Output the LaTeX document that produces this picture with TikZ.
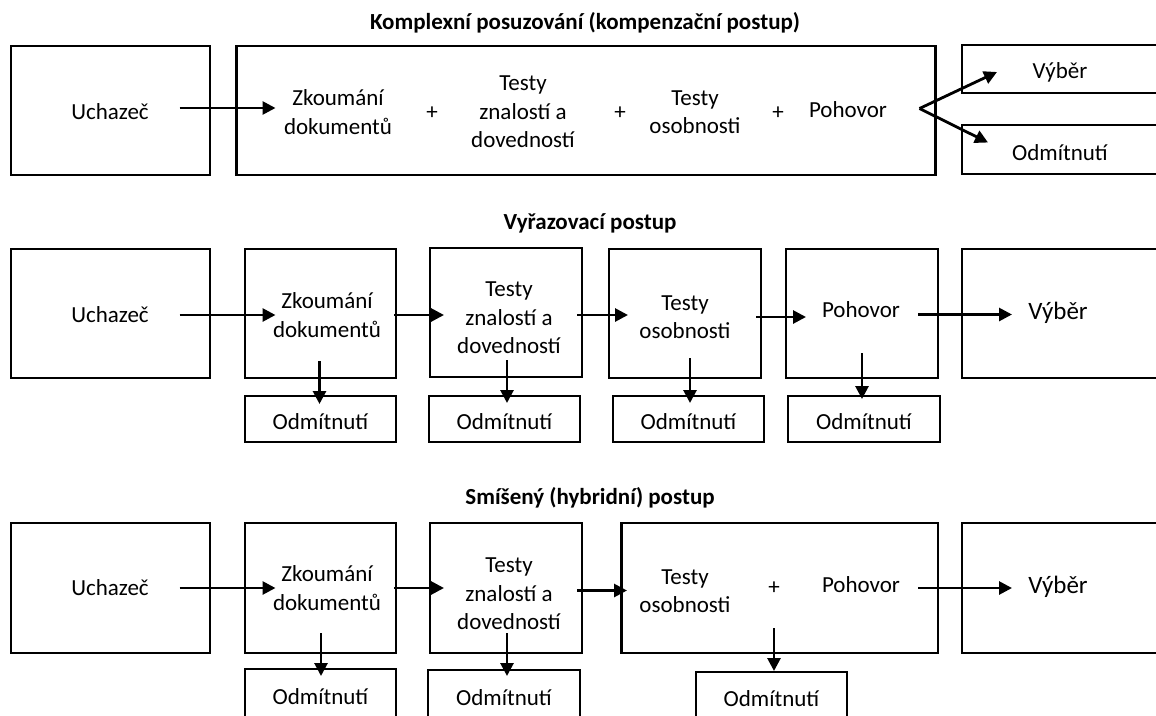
\documentclass[tikz,border=0pt]{standalone}
\usepackage{fontspec}
\setmainfont{Carlito}
\usetikzlibrary{arrows.meta,calc}
\begin{document}
\begin{tikzpicture}[x=1pt,y=-1pt,
  box/.style={draw,line width=2.3pt,inner sep=0pt,outer sep=0pt},
  txt/.style={align=center,inner sep=0pt,font=\fontsize{23}{28.5}\selectfont},
  ttl/.style={inner sep=0pt,font=\bfseries\fontsize{23}{27}\selectfont},
  bigtxt/.style={inner sep=0pt,font=\fontsize{25}{30}\selectfont},
  arr/.style={line width=2.8pt,-{Triangle[length=13pt,width=13pt]}}]
\useasboundingbox (0,0) rectangle (1156,715);
% ---------- Row 1 ----------
\node[ttl] (ttl1) at (585,23) {Komplexní posuzování (kompenzační postup)};
\node[box,minimum width=199pt,minimum height=129pt] (b1u) at (110.2,110.5) {};
\node[box,minimum width=699pt,minimum height=129pt] (b1m) at (586,110.5) {};
\node[box,minimum width=205pt,minimum height=48pt] (b1v) at (1064.5,69) {};
\node[box,minimum width=205pt,minimum height=49pt] (b1o) at (1064.5,149.5) {};
\node[txt] (t1u) at (110,112) {Uchazeč};
\node[txt] (t1zk) at (338,112) {Zkoumání\\dokumentů};
\node[txt] (p11) at (432,113) {+};
\node[txt] (t1tz) at (523,112) {Testy\\znalostí a\\dovedností};
\node[txt] (p12) at (620,113) {+};
\node[txt] (t1to) at (695,112) {Testy\\osobnosti};
\node[txt] (p13) at (778,113) {+};
\node[txt] (t1p) at (848,110) {Pohovor};
\node[txt] (t1v) at (1060,72) {Výběr};
\node[txt] (t1o) at (1060,153) {Odmítnutí};
\draw[arr] ($(b1u.east)+(-30,-2.5)$) -- ($(b1m.west)+(39,-2.5)$);
\coordinate (apex) at ($(b1m.east)+(-16,-2)$);
\draw[arr] (apex) -- ($(b1v.west)+(35,3)$);
\draw[arr] (apex) -- ($(b1o.west)+(26,-7)$);
% ---------- Row 2 ----------
\node[ttl] (ttl2) at (590,223) {Vyřazovací postup};
\node[box,minimum width=199pt,minimum height=129pt] (b2u) at (110.2,313.5) {};
\node[box,minimum width=151pt,minimum height=129pt] (b2zk) at (320.5,313.5) {};
\node[box,minimum width=152pt,minimum height=129pt] (b2tz) at (506,312.5) {};
\node[box,minimum width=152pt,minimum height=129pt] (b2to) at (685,313.5) {};
\node[box,minimum width=152pt,minimum height=129pt] (b2p) at (862,313.5) {};
\node[box,minimum width=205pt,minimum height=129pt] (b2v) at (1064.5,313.5) {};
\node[box,minimum width=151pt,minimum height=46pt] (o21) at (320.5,419) {};
\node[box,minimum width=151pt,minimum height=46pt] (o22) at (504.5,419) {};
\node[box,minimum width=151pt,minimum height=46pt] (o23) at (688.5,419) {};
\node[box,minimum width=152pt,minimum height=46pt] (o24) at (864,419) {};
\node[txt] (t2u) at (110,315) {Uchazeč};
\node[txt] (t2zk) at (327,315) {Zkoumání\\dokumentů};
\node[txt] (t2tz) at (509,318) {Testy\\znalostí a\\dovedností};
\node[txt] (t2to) at (685,317) {Testy\\osobnosti};
\node[txt] (t2p) at (861,310) {Pohovor};
\node[bigtxt] (t2v) at (1058,313) {Výběr};
\node[txt] (t2o1) at (320.5,422) {Odmítnutí};
\node[txt] (t2o2) at (504.5,422) {Odmítnutí};
\node[txt] (t2o3) at (688.5,422) {Odmítnutí};
\node[txt] (t2o4) at (864,422) {Odmítnutí};
\draw[arr] ($(b2u.east)+(-30,1.5)$) -- ($(b2zk.west)+(30.5,1.5)$);
\draw[arr] ($(b2zk.east)+(-2,1.5)$) -- ($(b2tz.west)+(14,2.5)$);
\draw[arr] ($(b2tz.east)+(-5,2.5)$) -- ($(b2to.west)+(19,1.5)$);
\draw[arr] ($(b2to.east)+(-5,3.5)$) -- ($(b2p.west)+(20,3.5)$);
\draw[arr] ($(b2p.east)+(-20,1)$) -- ($(b2v.west)+(50,1)$);
\draw[arr] ($(b2zk.south)+(-1,-17)$) -- ($(o21.north)+(-1,8)$);
\draw[arr] ($(b2tz.south)+(1,-17)$) -- ($(o22.north)+(2.5,7)$);
\draw[arr] ($(b2to.south)+(5,-20)$) -- ($(o23.north)+(1.5,7)$);
\draw[arr] ($(b2p.south)+(0,-25)$) -- ($(o24.north)+(-2,3)$);
% ---------- Row 3 ----------
\node[ttl] (ttl3) at (590,498) {Smíšený (hybridní) postup};
\node[box,minimum width=199pt,minimum height=130pt] (b3u) at (110.2,588) {};
\node[box,minimum width=151pt,minimum height=130pt] (b3zk) at (320.5,588) {};
\node[box,minimum width=152pt,minimum height=130pt] (b3tz) at (506,588) {};
\node[box,minimum width=316.5pt,minimum height=130pt] (b3c) at (779.75,588) {};
\node[box,minimum width=205pt,minimum height=130pt] (b3v) at (1064.5,588) {};
\node[box,minimum width=151pt,minimum height=51pt] (o31) at (320.5,694.5) {};
\node[box,minimum width=152pt,minimum height=50pt] (o32) at (504,695) {};
\node[box,minimum width=151pt,minimum height=48pt] (o33) at (771.5,696) {};
\node[txt] (t3u) at (110,588) {Uchazeč};
\node[txt] (t3zk) at (327,588) {Zkoumání\\dokumentů};
\node[txt] (t3tz) at (509,594) {Testy\\znalostí a\\dovedností};
\node[txt] (t3to) at (685,591) {Testy\\osobnosti};
\node[txt] (p31) at (774,588) {+};
\node[txt] (t3p) at (861,585) {Pohovor};
\node[bigtxt] (t3v) at (1058,587) {Výběr};
\node[txt] (t3o1) at (320.5,697) {Odmítnutí};
\node[txt] (t3o2) at (504,698) {Odmítnutí};
\node[txt] (t3o3) at (771.5,699) {Odmítnutí};
\draw[arr] ($(b3u.east)+(-30,0)$) -- ($(b3zk.west)+(30.5,0)$);
\draw[arr] ($(b3zk.east)+(-2,0)$) -- ($(b3tz.west)+(14,0)$);
\draw[arr] ($(b3tz.east)+(-5,2.5)$) -- ($(b3c.west)+(5.5,2.5)$);
\draw[arr] ($(b3c.east)+(-20,0)$) -- ($(b3v.west)+(50,0)$);
\draw[arr] ($(b3zk.south)+(0.5,-20)$) -- ($(o31.north)+(0.5,7)$);
\draw[arr] ($(b3tz.south)+(1,-20)$) -- ($(o32.north)+(3,6)$);
\draw[arr] ($(b3c.south)+(-5.75,-25)$) -- ($(o33.north)+(2.5,-1)$);
\end{tikzpicture}
\end{document}
